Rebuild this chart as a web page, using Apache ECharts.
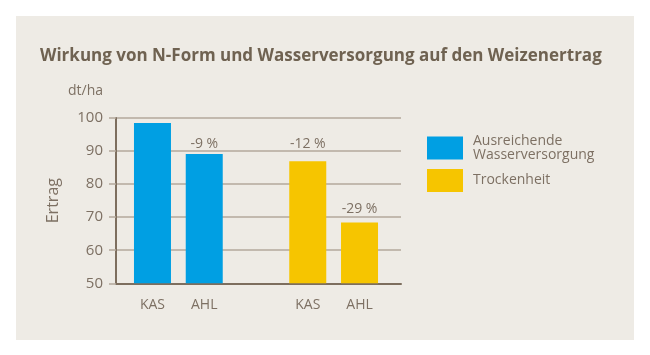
<!DOCTYPE html>
<html>
<head>
<meta charset="utf-8">
<script src="https://cdn.jsdelivr.net/npm/echarts@6/dist/echarts.min.js"></script>
<style>html,body{margin:0;padding:0;background:#fff}#c{width:650px;height:355px}</style>
</head>
<body>
<div id="c"></div>
<script>
var categories = ['KAS', 'AHL', '', 'KAS', 'AHL'];
var seriesNames = ['Ausreichende\nWasserversorgung', 'Trockenheit'];
var valuesWater = [98.5, 89.1, null, null, null];
var valuesDrought = [null, null, null, 86.9, 68.4];
var changeLabels = ['', '-9 %', '', '-12 %', '-29 %'];
var yTicks = [50, 60, 70, 80, 90, 100];

var TXT = '#7d7063';
var FONT = 'Open Sans';
var labelDist = [5, 3, 5, 10, 6];

function buildData(vals) {
  return vals.map(function (v, i) {
    if (v === null) return null;
    return { value: v, label: { show: changeLabels[i] !== '', formatter: changeLabels[i], distance: labelDist[i] } };
  });
}

var chart = echarts.init(document.getElementById('c'), null, { renderer: 'canvas' });
var option = {
  backgroundColor: '#ffffff',
  animation: false,
  graphic: [
    { type: 'rect', left: 16, top: 16, z: -10, shape: { width: 618, height: 324 }, style: { fill: '#eeebe5' } },
    { type: 'text', left: 68, top: 84, style: { text: 'dt/ha', fill: TXT, font: '14px "Open Sans"' } }
  ],
  title: {
    text: 'Wirkung von N-Form und Wasserversorgung auf den Weizenertrag',
    left: 35, top: 43,
    textStyle: { color: '#6f6251', fontFamily: 'Open Sans', fontWeight: 'bold', fontSize: 17 }
  },
  legend: {
    orient: 'vertical', left: 422, top: 129,
    itemWidth: 36, itemHeight: 23, itemGap: 7,
    icon: 'rect',
    textStyle: { color: TXT, fontFamily: FONT, fontSize: 14, lineHeight: 14, padding: [0, 0, 0, 5] },
    data: seriesNames
  },
  grid: [
    { left: 116, right: 249, top: 118, bottom: 71.7 },
    { left: 126.6, right: 264.6, top: 118, bottom: 71.7 }
  ],
  xAxis: [
    { gridIndex: 0, type: 'value', min: 0, max: 1, axisLabel: { show: false }, axisTick: { show: false }, splitLine: { show: false },
      axisLine: { show: true, lineStyle: { color: '#7d6e5e', width: 2 } } },
    { gridIndex: 1, type: 'category', data: categories, axisLine: { show: false }, axisTick: { show: false },
      axisLabel: { color: TXT, fontFamily: FONT, fontSize: 14, margin: 15 } }
  ],
  yAxis: [
    { gridIndex: 0, type: 'value', min: yTicks[0], max: yTicks[yTicks.length - 1], interval: 10,
      name: 'Ertrag', nameLocation: 'middle', nameRotate: 90, nameGap: 55,
      nameTextStyle: { color: TXT, fontFamily: FONT, fontSize: 16 },
      axisLine: { show: true, lineStyle: { color: '#7d6e5e', width: 2 } },
      axisTick: { show: true, length: 7, lineStyle: { color: '#b3a89b', width: 1.5 } },
      axisLabel: { color: TXT, fontFamily: FONT, fontSize: 15, margin: 13 },
      splitLine: { show: true, lineStyle: { color: '#b3a89b', width: 1.5 } } },
    { gridIndex: 1, type: 'value', min: yTicks[0], max: yTicks[yTicks.length - 1], interval: 10, show: false }
  ],
  series: [
    { name: seriesNames[0], type: 'bar', xAxisIndex: 1, yAxisIndex: 1, barWidth: 37, barGap: '-100%',
      itemStyle: { color: '#009fe3' },
      label: { position: 'top', color: TXT, fontFamily: FONT, fontSize: 14 },
      data: buildData(valuesWater) },
    { name: seriesNames[1], type: 'bar', xAxisIndex: 1, yAxisIndex: 1, barWidth: 37, barGap: '-100%',
      itemStyle: { color: '#f6c500' },
      label: { position: 'top', color: TXT, fontFamily: FONT, fontSize: 14 },
      data: buildData(valuesDrought) }
  ]
};
chart.setOption(option);
</script>
</body>
</html>
